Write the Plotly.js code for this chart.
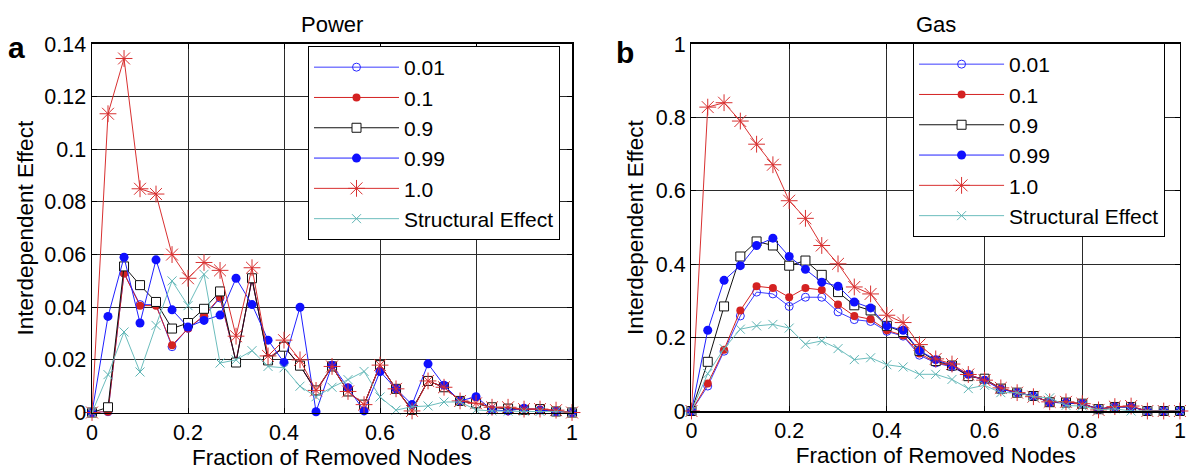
<!DOCTYPE html>
<html>
<head>
<meta charset="utf-8">
<script src="https://cdn.plot.ly/plotly-3.0.1.min.js"></script>
<style>html,body{margin:0;padding:0;background:#fff;}#chart{width:1192px;height:470px;}</style>
</head>
<body>
<div id="chart"></div>
<script>
// Fraction of removed nodes (x values)
const fraction = [0, 0.0333, 0.0667, 0.1, 0.1333, 0.1667, 0.2, 0.2333, 0.2667, 0.3, 0.3333,
  0.3667, 0.4, 0.4333, 0.4667, 0.5, 0.5333, 0.5667, 0.6, 0.6333, 0.6667,
  0.7, 0.7333, 0.7667, 0.8, 0.8333, 0.8667, 0.9, 0.9333, 0.9667, 1];

const seriesNames = ['0.01', '0.1', '0.9', '0.99', '1.0', 'Structural Effect'];

// Power network (panel a)
const power001 = [0, 0.0003, 0.053, 0.041, 0.041, 0.025, 0.032, 0.0365, 0.0435, 0.0195, 0.0505,
  0.0205, 0.025, 0.018, 0.008, 0.0175, 0.008, 0.003, 0.018, 0.009, 0.001,
  0.012, 0.0096, 0.0044, 0.0035, 0.002, 0.0015, 0.0012, 0.0012, 0.0004, 0];
const power01 = [0, 0.0003, 0.0528, 0.0406, 0.0406, 0.0256, 0.0319, 0.0369, 0.0438, 0.0195, 0.0506,
  0.0206, 0.025, 0.018, 0.008, 0.0175, 0.008, 0.003, 0.018, 0.009, 0.001,
  0.012, 0.0096, 0.0044, 0.0035, 0.002, 0.0015, 0.0012, 0.0013, 0.0004, 0];
const power09 = [0, 0.002, 0.0555, 0.0484, 0.042, 0.0319, 0.034, 0.0394, 0.046, 0.019, 0.051,
  0.0198, 0.025, 0.0178, 0.0084, 0.0175, 0.008, 0.003, 0.018, 0.009, 0.001,
  0.012, 0.0096, 0.0044, 0.0035, 0.002, 0.0015, 0.001, 0.0013, 0.0004, 0];
const power099 = [0, 0.0365, 0.059, 0.034, 0.058, 0.039, 0.0325, 0.035, 0.037, 0.051, 0.041,
  0.0275, 0.019, 0.040, 0.0003, 0.018, 0.0094, 0.0006, 0.0156, 0.009, 0.003,
  0.0185, 0.0104, 0.0044, 0.006, 0.001, 0.0006, 0.0016, 0.001, 0.0004, 0];
const power10 = [0, 0.1135, 0.1345, 0.085, 0.083, 0.060, 0.051, 0.057, 0.054, 0.029, 0.055,
  0.0215, 0.0275, 0.020, 0.0084, 0.0175, 0.008, 0.003, 0.018, 0.009, 0.0006,
  0.012, 0.0096, 0.0044, 0.0035, 0.002, 0.002, 0.0013, 0.0013, 0.0009, 0];
const powerStruct = [0, 0.0144, 0.0306, 0.0154, 0.0331, 0.050, 0.0406, 0.0525, 0.0188, 0.020, 0.0235,
  0.0175, 0.017, 0.010, 0.006, 0.0096, 0.0125, 0.0156, 0.0059, 0.0009, 0.0022,
  0.0025, 0.004, 0.004, 0.001, 0.0006, 0.0005, 0.0005, 0.0004, 0.0003, 0];

// Gas network (panel b)
const gas001 = [0, 0.068, 0.163, 0.259, 0.324, 0.319, 0.285, 0.31, 0.31, 0.27, 0.249,
  0.244, 0.217, 0.204, 0.152, 0.131, 0.12, 0.097, 0.084, 0.061, 0.05,
  0.041, 0.023, 0.023, 0.02, 0.005, 0.012, 0.012, 0, 0, 0];
const gas01 = [0, 0.075, 0.167, 0.274, 0.34, 0.335, 0.31, 0.335, 0.33, 0.29, 0.259,
  0.25, 0.22, 0.206, 0.157, 0.133, 0.122, 0.098, 0.085, 0.062, 0.05,
  0.041, 0.024, 0.024, 0.02, 0.005, 0.012, 0.012, 0, 0, 0];
const gas09 = [0, 0.134, 0.285, 0.421, 0.462, 0.451, 0.396, 0.41, 0.371, 0.324, 0.288,
  0.274, 0.232, 0.215, 0.164, 0.136, 0.124, 0.095, 0.088, 0.061, 0.05,
  0.041, 0.024, 0.023, 0.02, 0.005, 0.011, 0.011, 0, 0, 0];
const gas099 = [0, 0.22, 0.356, 0.396, 0.451, 0.471, 0.421, 0.386, 0.351, 0.34, 0.297,
  0.281, 0.232, 0.22, 0.164, 0.14, 0.124, 0.1, 0.084, 0.059, 0.05,
  0.041, 0.024, 0.023, 0.02, 0.005, 0.011, 0.011, 0, 0, 0];
const gas10 = [0, 0.828, 0.84, 0.79, 0.727, 0.671, 0.573, 0.525, 0.451, 0.401, 0.338,
  0.319, 0.261, 0.241, 0.181, 0.142, 0.128, 0.0995, 0.084, 0.063, 0.05,
  0.039, 0.025, 0.025, 0.02, 0.003, 0.012, 0.0135, 0, 0, 0];
const gasStruct = [0, 0.102, 0.17, 0.223, 0.232, 0.236, 0.226, 0.182, 0.191, 0.17, 0.14,
  0.145, 0.126, 0.12, 0.1, 0.1, 0.086, 0.061, 0.07, 0.05, 0.05,
  0.039, 0.036, 0.015, 0.0135, 0.003, 0.006, 0, 0, 0, 0];

const FONT = 'Liberation Sans, Arial, Helvetica, sans-serif';

const styles = [
  {color: '#2a2aff', line: '#3c3cff', symbol: 'circle-open', size: 8, mline: {color: '#2a2aff', width: 1}},
  {color: '#d42222', line: '#d42222', symbol: 'circle', size: 8, mline: {color: '#d42222', width: 0}},
  {color: '#ffffff', line: '#111111', symbol: 'square', size: 9, mline: {color: '#111111', width: 1}},
  {color: '#1010ff', line: '#2020ff', symbol: 'circle', size: 9, mline: {color: '#1010ff', width: 0}},
  {color: '#d83030', line: '#d83030', symbol: 'asterisk-open', size: 14, mline: {color: '#d83030', width: 1}},
  {color: '#5fb5b5', line: '#6cbdbd', symbol: 'x-thin-open', size: 9, mline: {color: '#5fb5b5', width: 1}}
];

function makeTraces(seriesList, xa, ya, legendId) {
  return seriesList.map((ys, k) => ({
    type: 'scatter', mode: 'lines+markers',
    x: fraction, y: ys, name: seriesNames[k],
    xaxis: xa, yaxis: ya, legend: legendId,
    line: {color: styles[k].line, width: 1},
    marker: {symbol: styles[k].symbol, size: styles[k].size, color: styles[k].color, line: styles[k].mline},
    cliponaxis: false
  }));
}

const traces = [
  ...makeTraces([power001, power01, power09, power099, power10, powerStruct], 'x', 'y', 'legend'),
  ...makeTraces([gas001, gas01, gas09, gas099, gas10, gasStruct], 'x2', 'y2', 'legend2')
];

const axisCommon = {
  showline: true, linecolor: '#000', linewidth: 1.5, mirror: 'ticks',
  ticks: 'inside', ticklen: 5, tickcolor: '#000', tickwidth: 1,
  showgrid: true, gridcolor: '#2a2a2a', gridwidth: 1, zeroline: false,
  tickfont: {family: FONT, size: 21.5, color: '#000'}, automargin: false
};

const legendCommon = {
  bgcolor: '#fff', bordercolor: '#000', borderwidth: 1,
  font: {family: FONT, size: 21, color: '#000'},
  xanchor: 'left', yanchor: 'top', itemwidth: 85, tracegroupgap: 0
};

const TITLE_FONT = {family: FONT, size: 22.5, color: '#000'};

const layout = {
  width: 1192, height: 470,
  margin: {l: 0, r: 0, t: 0, b: 0},
  paper_bgcolor: '#fff', plot_bgcolor: '#fff',
  font: {family: FONT, color: '#000'},
  showlegend: true,
  xaxis: Object.assign({}, axisCommon, {
    domain: [0.0772, 0.4799], range: [0, 1], tick0: 0, dtick: 0.2, anchor: 'y',
    title: {text: 'Fraction of Removed Nodes', font: TITLE_FONT, standoff: 5}
  }),
  yaxis: Object.assign({}, axisCommon, {
    domain: [0.1223, 0.9064], range: [0, 0.14], tick0: 0, dtick: 0.02, anchor: 'x',
    title: {text: 'Interdependent Effect', font: TITLE_FONT, standoff: 4}
  }),
  xaxis2: Object.assign({}, axisCommon, {
    domain: [0.5801, 0.9899], range: [0, 1], tick0: 0, dtick: 0.2, anchor: 'y2',
    title: {text: 'Fraction of Removed Nodes', font: TITLE_FONT, standoff: 5}
  }),
  yaxis2: Object.assign({}, axisCommon, {
    domain: [0.1255, 0.9064], range: [0, 1], tick0: 0, dtick: 0.2, anchor: 'x2',
    title: {text: 'Interdependent Effect', font: TITLE_FONT, standoff: 6}
  }),
  legend: Object.assign({}, legendCommon, {x: 0.2584, y: 0.9021}),
  legend2: Object.assign({}, legendCommon, {x: 0.766, y: 0.9085}),
  annotations: [
    {text: 'Power', xref: 'paper', yref: 'paper', x: 0.2785, y: 0.918, xanchor: 'center', yanchor: 'bottom',
     showarrow: false, font: {family: FONT, size: 22, color: '#000'}},
    {text: 'Gas', xref: 'paper', yref: 'paper', x: 0.785, y: 0.918, xanchor: 'center', yanchor: 'bottom',
     showarrow: false, font: {family: FONT, size: 22, color: '#000'}},
    {text: '<b>a</b>', xref: 'paper', yref: 'paper', x: 0.005, y: 0.86, xanchor: 'left', yanchor: 'bottom',
     showarrow: false, font: {family: FONT, size: 30, color: '#000'}},
    {text: '<b>b</b>', xref: 'paper', yref: 'paper', x: 0.515, y: 0.85, xanchor: 'left', yanchor: 'bottom',
     showarrow: false, font: {family: FONT, size: 30, color: '#000'}}
  ]
};

Plotly.newPlot('chart', traces, layout, {displayModeBar: false, staticPlot: true});
</script>
</body>
</html>
